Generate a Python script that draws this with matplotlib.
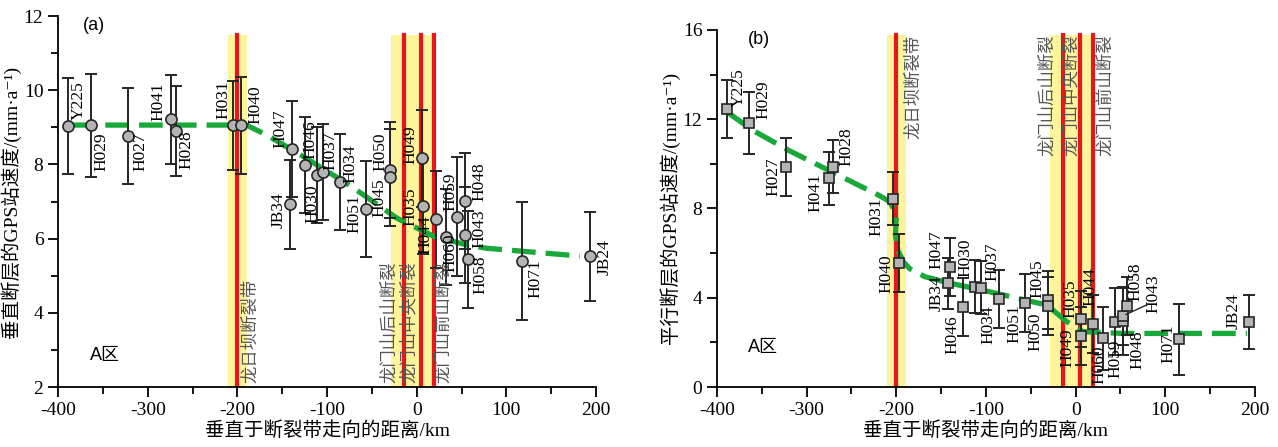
import matplotlib
matplotlib.use("Agg")
import matplotlib.pyplot as plt
from matplotlib.ticker import MultipleLocator

SERIF = ["Liberation Serif", "Noto Sans CJK SC", "DejaVu Sans"]
SANS = ["Liberation Sans", "Noto Sans CJK SC", "DejaVu Sans"]
plt.rcParams["font.family"] = SERIF
plt.rcParams["axes.unicode_minus"] = False

# ---- data ----
# panel (a): vertical-to-fault velocity
a_names = ["Y225", "H029", "H027", "H041", "H028", "H031", "H040", "H047", "JB34",
           "H046", "H030", "H037", "H034", "H051", "H050", "H045", "H049", "H035",
           "H044", "H060", "H059", "H048", "H043", "H058", "H071", "JB24"]
a_dist = [-388.5, -363.5, -322.3, -274.3, -268.7, -204.5, -195.6, -139.0, -141.0,
          -124.5, -110.8, -104.8, -85.5, -56.5, -29.8, -29.8, 5.6, 6.7,
          21.2, 32.3, 45.3, 53.9, 53.9, 57.6, 117.1, 193.3]
a_vel = [9.03, 9.05, 8.76, 9.22, 8.90, 9.06, 9.05, 8.41, 6.93,
         7.99, 7.71, 7.79, 7.52, 6.80, 7.85, 7.65, 8.16, 6.88,
         6.52, 6.05, 6.59, 7.02, 6.10, 5.44, 5.40, 5.53]
a_err = [1.3, 1.4, 1.3, 1.2, 1.2, 1.2, 1.3, 1.3, 1.2,
         1.3, 1.3, 1.3, 1.3, 1.3, 1.3, 1.3, 1.3, 1.3,
         1.3, 1.3, 1.6, 1.3, 1.3, 1.3, 1.6, 1.2]
a_fit_x = [-385, -190, -167, -127, -75, -22, 20, 56, 78, 182]
a_fit_y = [9.06, 9.06, 8.79, 8.22, 7.44, 6.55, 6.05, 5.83, 5.74, 5.53]
# station label centres (km, mm/a)
a_lab_x = [-376.6, -351.3, -308.6, -288.1, -256.5, -215.6, -180.3, -152.4, -154.3,
           -118.2, -116.4, -95.9, -73.6, -69.9, -40.1, -42.0, -6.7, -6.7,
           10.0, 38.0, 38.0, 69.5, 69.5, 71.4, 132.7, 210.0]
a_lab_y = [9.72, 8.34, 8.34, 9.69, 8.39, 9.74, 9.60, 8.97, 6.77,
           8.66, 6.95, 8.37, 8.03, 6.66, 8.33, 7.09, 8.52, 6.86,
           6.10, 5.62, 7.26, 7.53, 6.28, 5.02, 4.93, 5.51]

# panel (b): parallel-to-fault velocity
b_names = ["Y225", "H029", "H027", "H041", "H028", "H031", "H040", "H047", "JB34",
           "H046", "H030", "H037", "H034", "H051", "H045", "H050", "H035", "H049",
           "H044", "H060", "H059", "H048", "H043", "H058", "H071", "JB24"]
b_dist = [-389.2, -364.3, -323.4, -275.4, -270.3, -204.1, -197.0, -140.2, -142.0,
          -125.3, -112.3, -106.0, -85.5, -56.5, -31.2, -31.2, 5.9, 5.9,
          19.7, 30.4, 43.9, 52.4, 53.1, 57.0, 115.6, 193.3]
b_vel = [12.47, 11.83, 9.87, 9.35, 9.87, 8.44, 5.54, 5.39, 4.65,
         3.57, 4.50, 4.45, 3.95, 3.75, 3.90, 3.63, 3.03, 2.28,
         2.82, 2.18, 2.93, 2.95, 3.19, 3.63, 2.14, 2.90]
b_err = [1.3, 1.4, 1.3, 1.2, 1.2, 1.2, 1.3, 1.3, 1.15,
         1.3, 1.2, 1.2, 1.3, 1.3, 1.3, 1.3, 1.25, 1.3,
         1.3, 1.4, 1.5, 1.5, 1.3, 1.3, 1.6, 1.2]
b_fit_x = [-388, -360, -320, -280, -250, -220, -207, -200, -201, -198, -192, -185,
           -168, -140, -105, -73, -32, -10, 8, 53, 191]
b_fit_y = [12.3, 11.5, 10.6, 9.8, 9.2, 8.6, 8.3, 7.7, 6.8, 6.1, 5.6, 5.3,
           4.94, 4.65, 4.35, 4.05, 3.67, 2.93, 2.48, 2.40, 2.40]
b_lab_x = [-376.2, -348.4, -337.2, -290.7, -255.4, -221.9, -210.8, -155.0, -155.0,
           -137.5, -122.7, -93.0, -96.7, -68.8, -42.8, -44.6, -5.6, -9.3,
           16.0, 26.0, 44.6, 68.7, 87.3, 66.9, 104.0, 176.6]
b_lab_y = [13.39, 12.86, 9.42, 8.72, 10.77, 7.63, 5.09, 6.14, 4.20,
           2.33, 5.77, 5.59, 2.78, 2.85, 4.87, 2.48, 3.97, 1.78,
           4.49, 0.98, 1.25, 1.66, 4.20, 4.72, 1.93, 3.42]

# fault zones (km)
bands = [(-210, -189), (-29, 22)]
faults = [-200, -14.5, 4.5, 19.5]
fault_names = ["龙日坝断裂带", "龙门山后山断裂", "龙门山中央断裂", "龙门山前山断裂"]

YELLOW = "#fdf49c"
RED = "#e8161b"
GREEN = "#19a83a"
DARK = "#262626"


def draw_panel(ax, dist, vel, err, fit_x, fit_y, names, lab_x, lab_y,
               ylim, top_frac, marker, msize):
    for x0, x1 in bands:
        ax.axvspan(x0, x1, ymin=0, ymax=top_frac, color=YELLOW, lw=0, zorder=0)
    for f in faults:
        ax.axvline(f, ymin=0, ymax=top_frac, color=RED, lw=3.0, zorder=1)
    ax.plot(fit_x, fit_y, color=GREEN, lw=3.8, dashes=(4.5, 1.9), zorder=2,
            solid_capstyle="butt")
    ax.errorbar(dist, vel, yerr=err, fmt="none", ecolor=DARK, elinewidth=1.4,
                capsize=4.5, capthick=1.4, zorder=3)
    ax.plot(dist, vel, ls="none", marker=marker, ms=msize, mfc="#b4b4b4",
            mec=DARK, mew=1.2, zorder=4)
    for n, lx, ly in zip(names, lab_x, lab_y):
        ax.text(lx, ly, n, rotation=90, ha="center", va="center", fontsize=12.5,
                family=SERIF, zorder=5)

    ax.set_xlim(-400, 200)
    ax.set_ylim(*ylim)
    ax.spines["top"].set_visible(False)
    ax.spines["right"].set_visible(False)
    ax.spines["left"].set_linewidth(1.3)
    ax.spines["bottom"].set_linewidth(1.3)
    ax.xaxis.set_major_locator(MultipleLocator(100))
    ax.xaxis.set_minor_locator(MultipleLocator(50))
    ax.tick_params(which="major", direction="out", length=7, width=1.3,
                   labelsize=14)
    ax.tick_params(which="minor", direction="out", length=5, width=1.3)
    ax.set_xlabel("垂直于断裂带走向的距离/km", fontsize=14, family=SERIF,
                  labelpad=2)


fig = plt.figure(figsize=(12.78, 4.47), dpi=100)
ax1 = fig.add_axes([0.0454, 0.1342, 0.421, 0.830])
ax2 = fig.add_axes([0.561, 0.1342, 0.421, 0.799])

# (a)
draw_panel(ax1, a_dist, a_vel, a_err, a_fit_x, a_fit_y, a_names, a_lab_x, a_lab_y,
           (2, 12), 0.95, "o", 8)
ax1.yaxis.set_major_locator(MultipleLocator(2))
ax1.yaxis.set_minor_locator(MultipleLocator(1))
ax1.set_ylabel("垂直断层的GPS站速度/(mm·a⁻¹)", fontsize=14, family=SERIF, labelpad=2)
ax1.text(-372, 11.75, "(a)", fontsize=13, family=SANS, ha="left", va="center")
ax1.text(-364, 2.86, "A区", fontsize=13, family=SANS, ha="left", va="center")
a_fault_x = [-186, -31, -9, 29]
for fx, name in zip(a_fault_x, fault_names):
    ax1.text(fx, 2.1, name, rotation=90, ha="center", va="bottom", fontsize=12.5,
             color="#555555", family=SANS, zorder=5)

# (b)
draw_panel(ax2, b_dist, b_vel, b_err, b_fit_x, b_fit_y, b_names, b_lab_x, b_lab_y,
           (0, 16), 0.986, "s", 7.5)
ax2.yaxis.set_major_locator(MultipleLocator(4))
ax2.yaxis.set_minor_locator(MultipleLocator(2))
ax2.set_ylabel("平行断层的GPS站速度/(mm·a⁻¹)", fontsize=14, family=SERIF, labelpad=2)
ax2.text(-365, 15.55, "(b)", fontsize=13, family=SANS, ha="left", va="center")
ax2.text(-365, 1.75, "A区", fontsize=13, family=SANS, ha="left", va="center")
ax2.annotate("", xy=(53.1, 3.19), xytext=(83, 3.75),
             arrowprops=dict(arrowstyle="-", color=DARK, lw=1.0), zorder=5)
b_fault_x = [-181, -32, -6, 32.7]
for fx, name in zip(b_fault_x, fault_names):
    ax2.text(fx, 15.8, name, rotation=90, ha="center", va="top", fontsize=12.5,
             color="#555555", family=SANS, zorder=5)

fig.savefig("out.png", dpi=100)
